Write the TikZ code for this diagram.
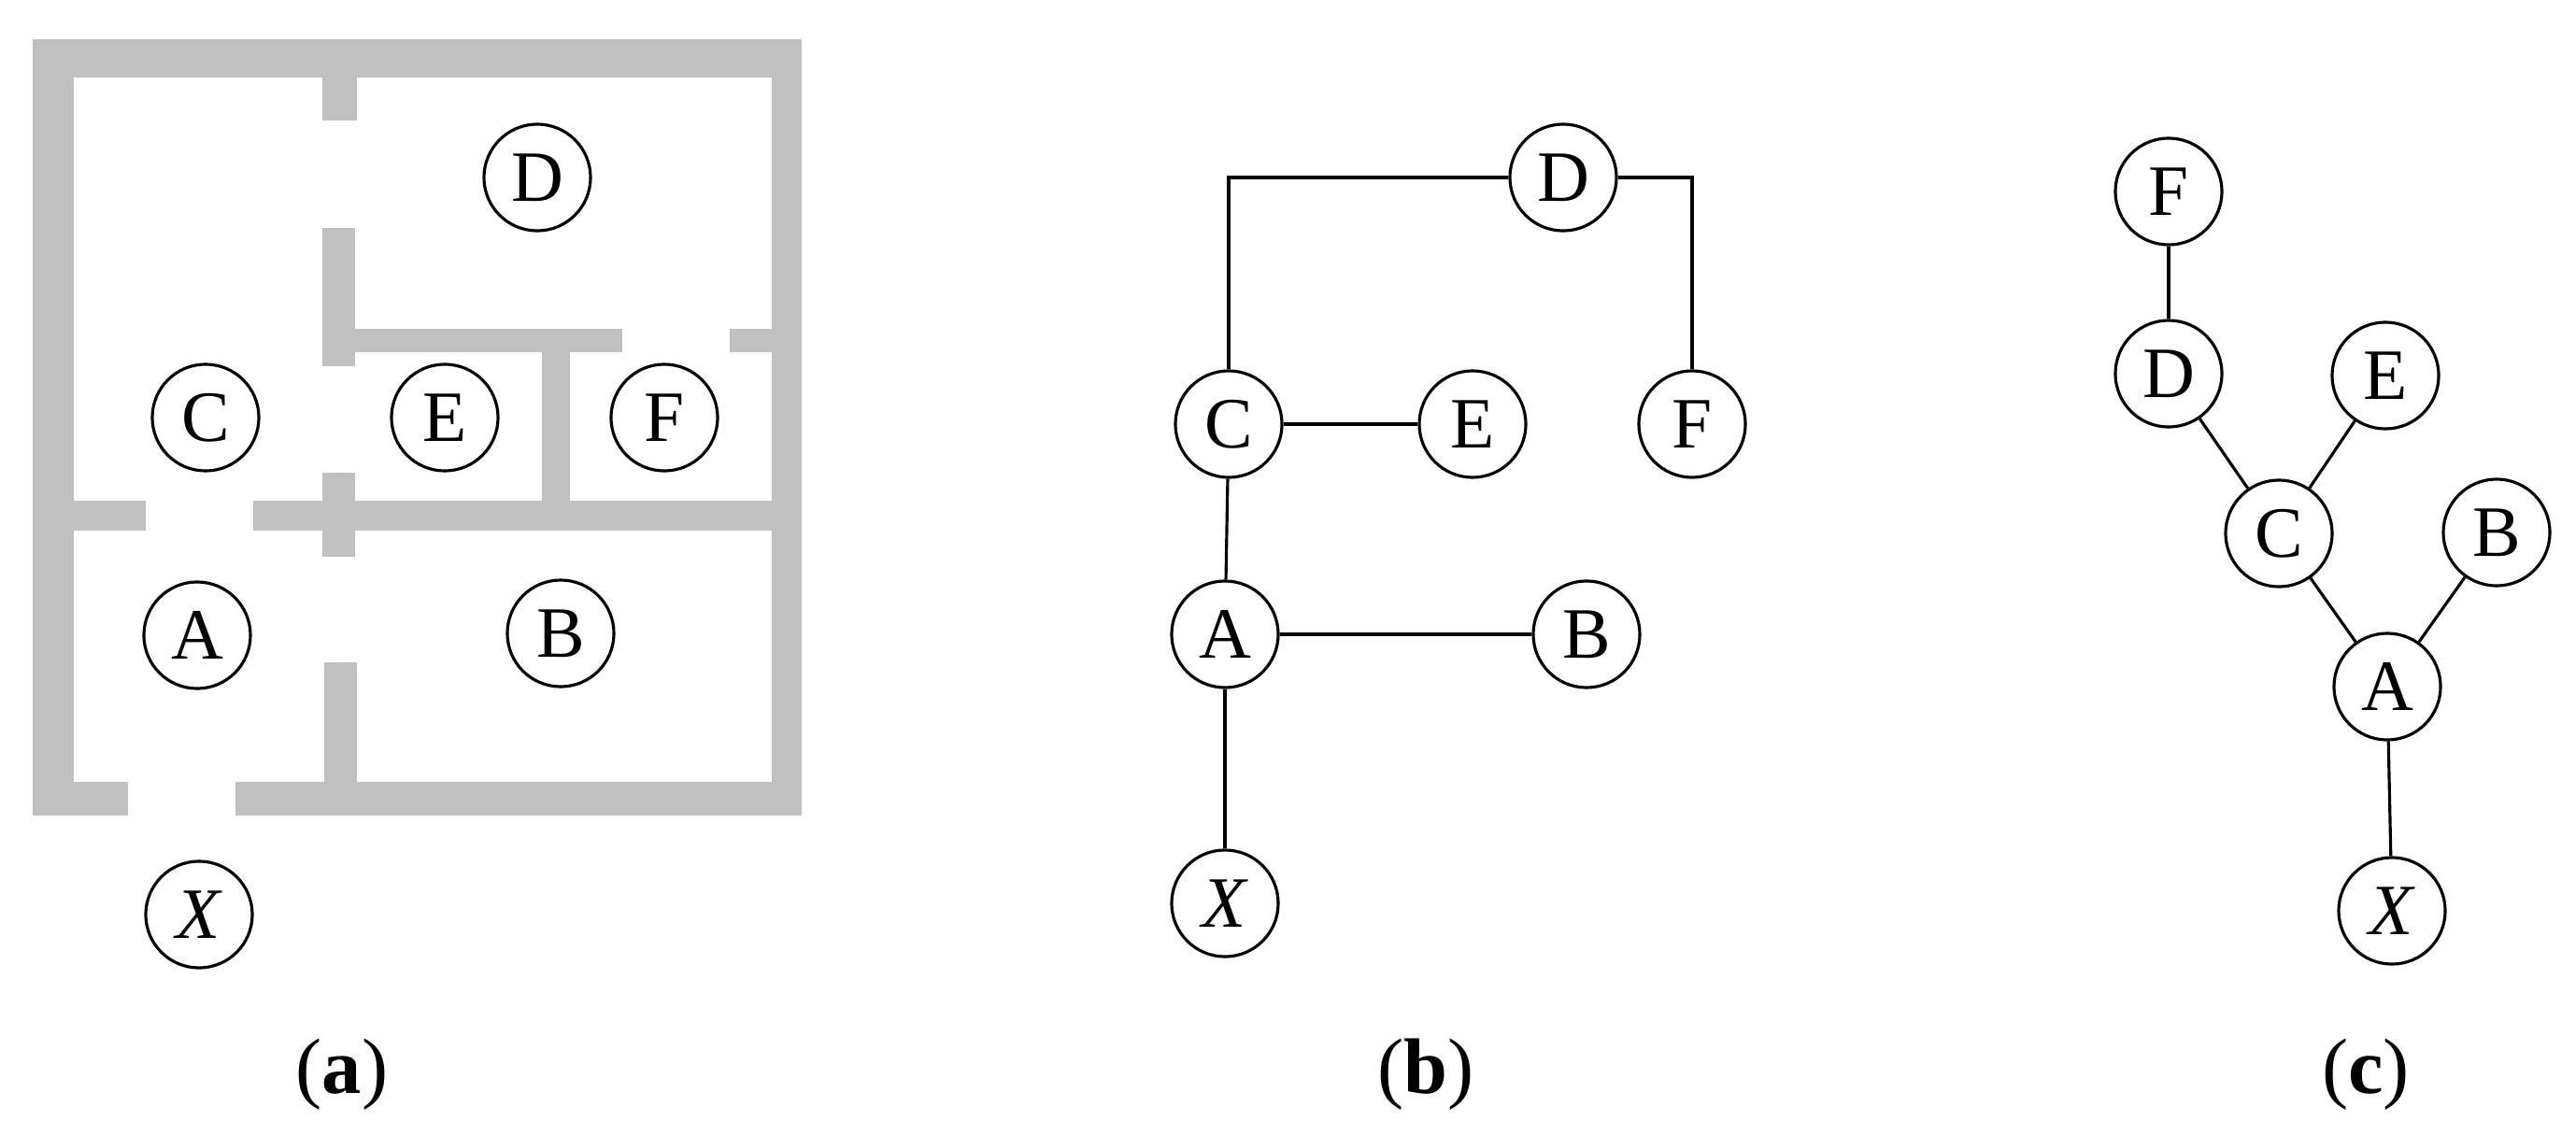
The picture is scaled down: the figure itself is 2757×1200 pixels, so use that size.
\documentclass[tikz,border=0pt]{standalone}
\usepackage{fontspec}
\setmainfont{Liberation Serif}
\definecolor{wall}{RGB}{192,192,192}
\begin{document}
\begin{tikzpicture}[x=0.01cm,y=-0.01cm,
  st/.style={circle,draw,line width=0.9pt,minimum size=1.14cm,inner sep=0pt,font=\fontsize{22}{24}\selectfont},
  ln/.style={line width=0.9pt},
  lab/.style={font=\fontsize{24}{26}\selectfont},
  w/.style={fill=wall,draw=none}]
\useasboundingbox (0,0) rectangle (2757,1200);
% floor plan walls
\fill[w] (35,42) rectangle (79,873);
\fill[w] (35,42) rectangle (858,83);
\fill[w] (826,42) rectangle (858,873);
\fill[w] (35,837) rectangle (137,873);
\fill[w] (252,837) rectangle (858,873);
\fill[w] (345,83) rectangle (382,129);
\fill[w] (345,244) rectangle (380,392);
\fill[w] (380,352) rectangle (666,377);
\fill[w] (781,352) rectangle (826,377);
\fill[w] (580,377) rectangle (610,536);
\fill[w] (79,536) rectangle (156,568);
\fill[w] (271,536) rectangle (826,568);
\fill[w] (345,506) rectangle (380,596);
\fill[w] (347,709) rectangle (382,837);
% (a) nodes
\node[st] (aD) at (575,190) {D};
\node[st] (aC) at (220,447) {C};
\node[st] (aE) at (476,447) {E};
\node[st] (aF) at (711,447) {F};
\node[st] (aA) at (211,680) {A};
\node[st] (aB) at (600,678) {B};
\node[st] (aX) at (213,979) {\textit{X}};
\node[lab] (la) at (366,1150) {(\textbf{a})};
% (b)
\node[st] (bD) at (1673,190) {D};
\node[st] (bC) at (1315,454) {C};
\node[st] (bE) at (1576,454) {E};
\node[st] (bF) at (1811,454) {F};
\node[st] (bA) at (1311,679) {A};
\node[st] (bB) at (1698,679) {B};
\node[st] (bX) at (1311,967) {\textit{X}};
\node[lab] (lb) at (1526,1150) {(\textbf{b})};
\draw[ln] (bC.north) |- (bD.west);
\draw[ln] (bD.east) -| (bF.north);
\draw[ln] (bC) -- (bE);
\draw[ln] (bC) -- (bA);
\draw[ln] (bA) -- (bB);
\draw[ln] (bA) -- (bX);
% (c)
\node[st] (cF) at (2321,205) {F};
\node[st] (cD) at (2321,400) {D};
\node[st] (cE) at (2553,402) {E};
\node[st] (cC) at (2439,571) {C};
\node[st] (cB) at (2672,570) {B};
\node[st] (cA) at (2555,735) {A};
\node[st] (cX) at (2560,975) {\textit{X}};
\node[lab] (lc) at (2532,1150) {(\textbf{c})};
\draw[ln] (cF) -- (cD);
\draw[ln] (cD) -- (cC);
\draw[ln] (cE) -- (cC);
\draw[ln] (cC) -- (cA);
\draw[ln] (cB) -- (cA);
\draw[ln] (cA) -- (cX);
\end{tikzpicture}
\end{document}
